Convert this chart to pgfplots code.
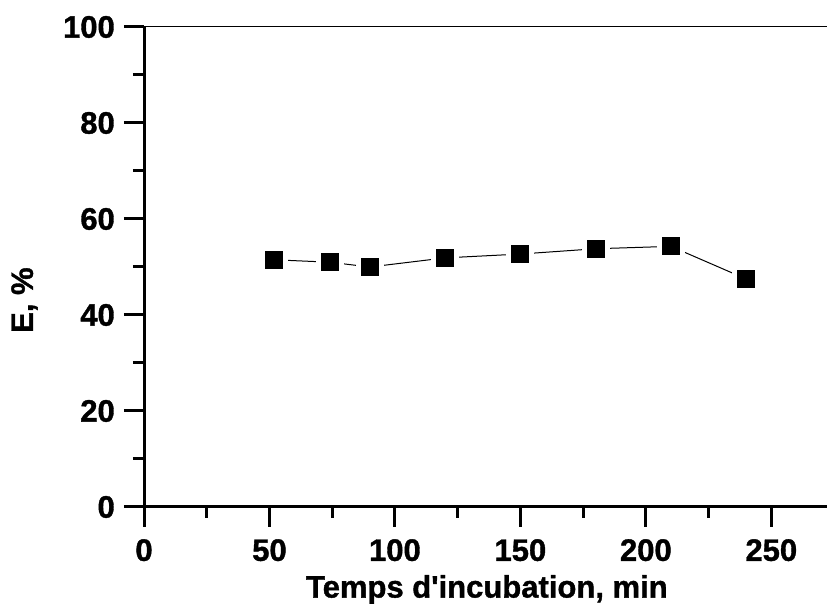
\documentclass[border=0pt]{standalone}
\usepackage{pgfplots}
\pgfplotsset{compat=1.18}
\usepackage{fontspec}
\setmainfont{Liberation Sans}[BoldFeatures={FakeBold=1.2}]
\begin{document}
\begin{tikzpicture}
\useasboundingbox (0pt,0pt) rectangle (827pt,604pt);
\begin{axis}[
    at={(144pt,97pt)}, anchor=south west,
    scale only axis, width=683pt, height=480pt,
    xmin=0, xmax=272.2, ymin=0, ymax=100,
    axis x line*=bottom, axis y line*=left,
    axis line style={line width=3pt},
    xtick={0,50,...,250}, ytick={0,20,...,100},
    minor x tick num=1, minor y tick num=1,
    tick align=outside,
    major tick length=20pt, minor tick length=11pt,
    every tick/.style={black, line width=3pt},
    /pgf/number format/assume math mode=true,
    tick label style={font=\fontsize{31}{37}\selectfont\bfseries},
    xticklabel style={inner sep=0pt, yshift=-12pt},
    yticklabel style={inner sep=0pt, xshift=-9pt},
    label style={font=\fontsize{31}{37}\selectfont\bfseries},
    xlabel={Temps d\textquotesingle incubation, min},
    ylabel={E, \%},
    xlabel style={at={(axis description cs:0.502,-0.172)}, anchor=center},
    ylabel style={at={(axis description cs:-0.175,0.431)}, anchor=center, rotate=0},
    clip=false,
]
\draw[line width=1pt] (rel axis cs:0,1) -- (rel axis cs:1,1);
\addplot[black, line width=1pt, mark=square*, mark size=11.5pt,
    mark options={fill=black, draw=white, line width=5pt}]
    coordinates {(52,51.5) (74,51.0) (90,50.0) (120,51.9) (150,52.7) (180,53.8) (210,54.3) (240,47.5)};
\end{axis}
\end{tikzpicture}
\end{document}
